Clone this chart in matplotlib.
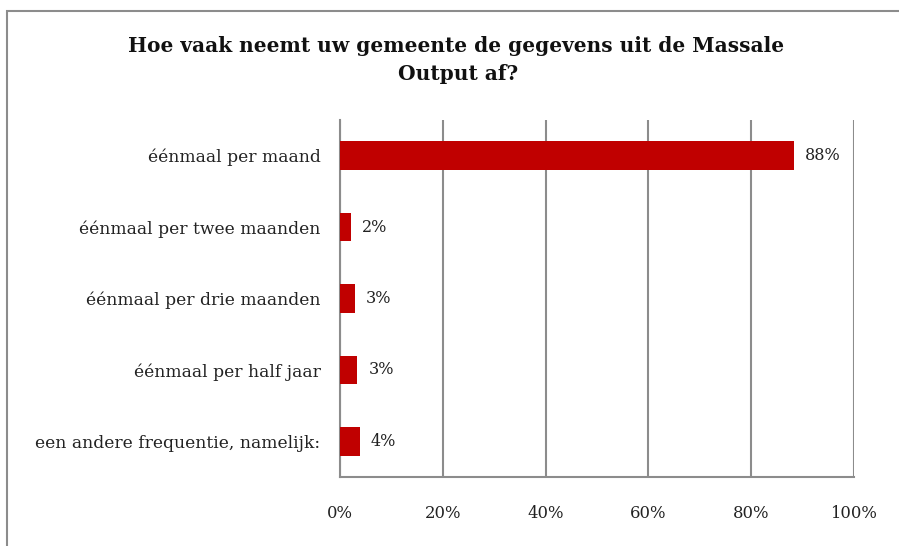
import matplotlib.pyplot as plt
from matplotlib.patches import Rectangle

categories = ['éénmaal per maand', 'éénmaal per twee maanden', 'éénmaal per drie maanden',
              'éénmaal per half jaar', 'een andere frequentie, namelijk:']
values = [88.3, 2.1, 2.9, 3.4, 3.8]
labels = ['88%', '2%', '3%', '3%', '4%']
ticks = [0, 20, 40, 60, 80, 100]

plt.rcParams['font.family'] = ['DejaVu Serif']

fig = plt.figure(figsize=(8.99, 5.46), dpi=100)
ax = fig.add_axes([340 / 899, 1 - 477 / 546, 514 / 899, 357 / 546])

# chart frame (cut off at right and bottom like the source)
fig.patches.append(Rectangle((7 / 899, -0.1), 1.0, 1 - 11 / 546 + 0.1, transform=fig.transFigure,
                             fill=False, edgecolor='#8c8c8c', linewidth=1.5))

y = list(range(len(categories)))
ax.barh(y, values, height=0.4, color='#c00000', zorder=3)
for yi, v, lab in zip(y, values, labels):
    ax.text(v + 2.2, yi, lab, va='center', ha='left', fontsize=11.5, color='#222222')

ax.set_ylim(len(categories) - 0.5, -0.5)
ax.set_xlim(0, 100)
ax.set_yticks(y)
ax.set_yticklabels(categories, fontsize=12.3, color='#222222')
ax.set_xticks(ticks)
ax.set_xticklabels([f'{t}%' for t in ticks], fontsize=11.8, color='#222222')
ax.tick_params(axis='both', length=0)
ax.tick_params(axis='x', pad=20)
ax.tick_params(axis='y', pad=14)
ax.xaxis.grid(True, color='#8c8c8c', linewidth=1.5, zorder=0)
ax.set_axisbelow(True)
for s in ['top', 'right']:
    ax.spines[s].set_visible(False)
for s in ['left', 'bottom']:
    ax.spines[s].set_color('#8c8c8c')
    ax.spines[s].set_linewidth(1.5)

fig.text(456 / 899, 1 - 46 / 546, 'Hoe vaak neemt uw gemeente de gegevens uit de Massale',
         ha='center', va='center', fontsize=14.5, fontweight='bold', color='#111111')
fig.text(458 / 899, 1 - 74 / 546, 'Output af?', ha='center', va='center', fontsize=14.5,
         fontweight='bold', color='#111111')

fig.savefig('out.png', dpi=100)
